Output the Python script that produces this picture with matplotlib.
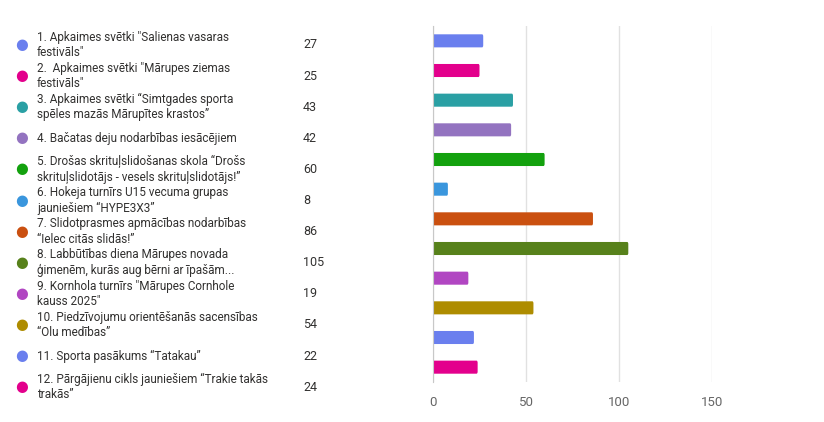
import matplotlib.pyplot as plt
from matplotlib.patches import FancyBboxPatch

labels = [
    '1. Apkaimes svētki "Salienas vasaras\nfestivāls"',
    '2.  Apkaimes svētki "Mārupes ziemas\nfestivāls"',
    '3. Apkaimes svētki “Simtgades sporta\nspēles mazās Mārupītes krastos”',
    '4. Bačatas deju nodarbības iesācējiem',
    '5. Drošas skrituļslidošanas skola “Drošs\nskrituļslidotājs - vesels skrituļslidotājs!”',
    '6. Hokeja turnīrs U15 vecuma grupas\njauniešiem “HYPE3X3”',
    '7. Slidotprasmes apmācības nodarbības\n“Ielec citās slidās!”',
    '8. Labbūtības diena Mārupes novada\nģimenēm, kurās aug bērni ar īpašām...',
    '9. Kornhola turnīrs "Mārupes Cornhole\nkauss 2025"',
    '10. Piedzīvojumu orientēšanās sacensības\n“Olu medības”',
    '11. Sporta pasākums “Tatakau”',
    '12. Pārgājienu cikls jauniešiem “Trakie takās\ntrakās”',
]
values = [27, 25, 43, 42, 60, 8, 86, 105, 19, 54, 22, 24]
colors = ['#6A7FEE', '#E3008C', '#2AA0A4', '#9373C0', '#13A10E', '#3A96DD',
          '#CA5010', '#57811B', '#B146C2', '#AE8C00', '#6A7FEE', '#E3008C']
xticks = [0, 50, 100, 150]

plt.rcParams['font.family'] = ['Roboto', 'DejaVu Sans']
W, H = 824, 422
fig = plt.figure(figsize=(W / 100, H / 100), dpi=100)

# bar chart on the right
ax = fig.add_axes([433 / W, 1 - 382 / H, 279 / W, 356 / H])
n = len(values)
for i, (v, c) in enumerate(zip(values, colors)):
    ax.add_patch(FancyBboxPatch((0, i - 0.22), v, 0.44,
                                boxstyle='round,pad=0,rounding_size=0.6',
                                mutation_aspect=0.12, fc=c, ec='none'))
ax.set_xlim(0, 150)
ax.set_ylim(n - 0.5, -0.5)
ax.set_xticks(xticks)
ax.set_yticks([])
ax.grid(axis='x', color='#e1e1e1', lw=1)
ax.set_axisbelow(True)
for s in ['top', 'right', 'bottom']:
    ax.spines[s].set_visible(False)
ax.spines['left'].set_color('#c8c8c8')
ax.tick_params(axis='x', length=0, labelsize=9.5, labelcolor='#666666', pad=10)

# legend list on the left
y0, dy = 45, 31.1
for i, (lab, v, c) in enumerate(zip(labels, values, colors)):
    y = 1 - (y0 + i * dy) / H
    fig.text(22 / W, y, '●', color=c, fontsize=10.5, ha='center', va='center')
    fig.text(37 / W, y, lab, color='#323130', fontsize=8.5, ha='left',
             va='center', linespacing=1.25)
    fig.text(303 / W, y, str(v), color='#323130', fontsize=9, ha='left',
             va='center')

fig.savefig('out.png', dpi=100)
